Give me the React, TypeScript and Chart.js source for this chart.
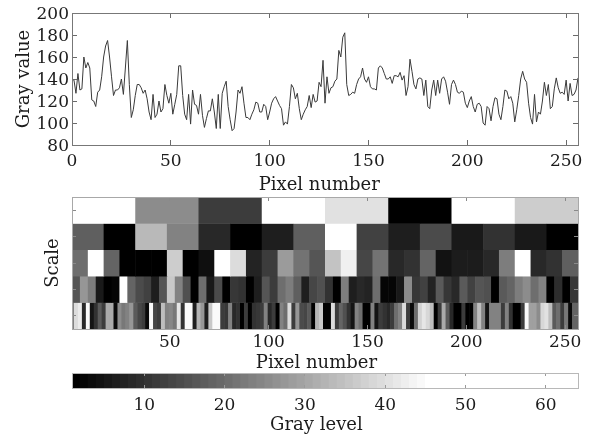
import React, { useEffect, useRef } from "react";
import { Chart, registerables } from "chart.js";

Chart.register(...registerables);

const grayValues = [
  140,139,127,145,130,131,160,150,155,150,
  121,120,115,128,130,142,160,170,175,160,
  142,125,130,130,132,140,126,150,175,135,
  105,112,125,135,135,132,127,130,122,110,
  103,126,105,108,120,110,113,135,125,118,
  127,108,117,126,152,152,125,108,103,126,
  99,130,117,116,108,126,107,96,104,111,
  111,122,110,95,126,95,127,133,138,115,
  103,93,95,110,130,127,133,118,105,105,
  103,108,112,119,118,110,110,117,115,103,
  110,118,122,124,120,116,113,98,101,99,
  115,135,132,122,127,113,103,108,112,115,
  125,114,126,119,120,137,133,157,118,142,
  127,132,133,138,140,166,160,178,182,135,
  125,126,128,127,135,140,142,150,140,137,
  142,133,131,131,130,150,152,150,145,140,
  140,142,136,143,143,142,146,139,143,125,
  133,158,147,135,131,140,141,140,125,139,
  115,113,130,139,125,139,127,140,142,138,
  128,117,135,139,135,128,127,129,128,118,
  114,120,124,115,110,117,118,115,100,98,
  115,113,102,115,123,122,108,103,115,130,
  129,122,124,118,101,112,125,140,147,140,
  137,118,105,99,126,101,110,108,120,137,
  125,135,113,115,131,141,132,127,128,126,
  139,120,136,125,126,130,141,
];

const scaleRow1 = [255,140,60,255,225,0,255,205];
const scaleRow2 = [95,0,185,130,40,0,30,95,255,65,30,75,25,50,25,0];
const scaleRow3 = [110,255,100,0,0,0,205,0,15,255,220,35,60,155,115,85,195,240,70,115,40,50,100,18,28,28,40,125,255,40,50,95];
const scaleRow4 = [
  85,150,125,25,0,5,255,100,75,65,30,85,200,130,80,0,110,25,75,0,55,50,0,30,85,60,110,125,95,30,70,80,
  50,0,125,30,40,35,110,5,5,25,140,55,65,35,90,55,40,90,65,85,80,0,90,100,125,140,110,130,0,45,0,55,
];
const scaleRow5 = [
  130,220,235,40,250,20,50,90,60,170,
  170,10,140,120,130,150,90,70,60,10,
  250,70,60,190,130,135,120,230,50,250,
  250,30,180,150,30,200,250,250,60,55,
  130,40,50,0,60,0,50,55,60,130,
  40,60,0,130,110,220,60,150,75,70,
  90,0,180,200,0,0,220,60,100,80,
  50,20,130,110,0,0,130,20,60,50,
  40,60,110,130,220,60,10,110,210,230,
  215,190,0,60,170,90,40,0,0,60,
  0,0,130,190,130,20,130,130,130,60,
  130,50,0,0,60,250,160,160,140,215,
  225,190,90,110,60,120,10,100,100,
];
const scaleRows = [scaleRow1, scaleRow2, scaleRow3, scaleRow4, scaleRow5];
const scaleLabels = ["1", "2", "3", "4", "5"];
const colorbarGrays = [
  0,6,12,17,23,29,35,41,46,52,58,64,70,75,81,87,93,99,104,110,116,122,128,133,139,145,151,157,162,168,174,180,
  186,191,197,203,209,215,220,226,232,238,244,249,255,255,255,255,255,255,255,255,255,255,255,255,255,255,255,255,255,255,255,255,
];
const lineTicks = [0, 50, 100, 150, 200, 250];
const yTicks = [80, 100, 120, 140, 160, 180, 200];
const mapTicks = [50, 100, 150, 200, 250];
const barTicks = [10, 20, 30, 40, 50, 60];

const FONT = "'DejaVu Serif'";
const tickFont = { family: FONT, size: 17 };
const titleFont = { family: FONT, size: 18 };
const TEXT = "#1c1c1c";
const AXIS = "#6a6a6a";
const gray = (g: number) => `rgb(${g},${g},${g})`;

const fixed = (k: "width" | "height", v: number) => (s: any) => {
  s[k] = v;
  s.paddingLeft = 0;
  s.paddingRight = 0;
  s.paddingTop = 0;
  s.paddingBottom = 0;
};
const only = (vals: number[]) => (s: any) => { s.ticks = vals.map((value) => ({ value })); };

const frame = (color: string) => ({
  id: "frame",
  afterDraw(chart: any) {
    const { ctx, chartArea: a } = chart;
    ctx.save();
    ctx.strokeStyle = color;
    ctx.lineWidth = 1;
    ctx.strokeRect(Math.round(a.left) + 0.5, Math.round(a.top) + 0.5, Math.round(a.right - a.left), Math.round(a.bottom - a.top));
    ctx.restore();
  },
});

function xAxis(min: number, max: number, vals: number[], h: number, title: string, tickLen: number, pad: number, color = AXIS) {
  return {
    type: "linear", position: "bottom", min, max,
    afterFit: fixed("height", h),
    afterBuildTicks: only(vals),
    border: { display: false },
    grid: { drawOnChartArea: false, tickLength: -tickLen, color, z: 2 },
    ticks: { color: TEXT, font: tickFont, padding: pad, maxRotation: 0, autoSkip: false, callback: (v: any) => String(v) },
    title: { display: true, text: title, color: TEXT, font: titleFont, padding: { top: 0, bottom: 0 } },
  };
}
function topAxis(min: number, max: number, vals: number[], tickLen: number, color = AXIS) {
  return {
    type: "linear", position: "top", min, max,
    afterFit: fixed("height", 0),
    afterBuildTicks: only(vals),
    border: { display: false },
    grid: { drawOnChartArea: false, tickLength: -tickLen, color, z: 2 },
    ticks: { display: false },
  };
}
function rightBlank(extra: any = {}) {
  return {
    position: "right",
    afterFit: fixed("width", 0),
    border: { display: false },
    ticks: { display: false },
    ...extra,
  };
}

const common = (pad: any) => ({
  responsive: false,
  animation: false as const,
  layout: { padding: pad },
  plugins: { legend: { display: false }, tooltip: { enabled: false } },
});

function cells(values: number[], start: number, width: number, y: string) {
  return {
    data: values.map((_, i) => ({ x: [start + i * width, start + (i + 1) * width + 0.3], y })),
    backgroundColor: values.map(gray),
    borderWidth: 0,
    barPercentage: 1.02,
    categoryPercentage: 1,
    grouped: false,
  };
}

export default function App() {
  const a = useRef<HTMLCanvasElement>(null);
  const b = useRef<HTMLCanvasElement>(null);
  const c = useRef<HTMLCanvasElement>(null);

  useEffect(() => {
    const lineChart = new Chart(a.current!, {
      type: "line",
      data: {
        datasets: [{
          data: grayValues.map((y, x) => ({ x, y })),
          borderColor: "#3a3a3a", borderWidth: 1, pointRadius: 0, tension: 0, fill: false,
        }],
      },
      plugins: [frame("#777777")],
      options: {
        ...common({ left: 0, top: 13, right: 13, bottom: 0 }),
        scales: {
          x: xAxis(0, 256, lineTicks, 51, "Pixel number  ", 5, 11),
          x2: topAxis(0, 256, lineTicks, 5),
          y: {
            type: "linear", position: "left", min: 80, max: 200,
            afterFit: fixed("width", 72),
            afterBuildTicks: only(yTicks),
            border: { display: false },
            grid: { drawOnChartArea: false, tickLength: -5, color: AXIS, z: 2 },
            ticks: { color: TEXT, font: tickFont, padding: 8, labelOffset: 2, autoSkip: false, callback: (v: any) => String(v) },
            title: { display: true, text: "Gray value", color: TEXT, font: titleFont, padding: { top: 14, bottom: 0 } },
          },
          y2: { type: "linear", min: 80, max: 200, afterBuildTicks: only(yTicks),
            grid: { drawOnChartArea: false, tickLength: -5, color: AXIS, z: 2 }, ...rightBlank() },
        },
      } as any,
    });

    const mapChart = new Chart(b.current!, {
      type: "bar",
      data: {
        labels: scaleLabels,
        datasets: scaleRows.map((row, r) =>
          cells(row, r === 4 ? -0.5 : 0.5, r === 4 ? 2 : 256 / row.length, scaleLabels[r])),
      } as any,
      plugins: [frame("#a8a8a8")],
      options: {
        ...common({ left: 0, top: 7, right: 13, bottom: 0 }),
        indexAxis: "y",
        scales: {
          x: xAxis(0.5, 256.5, mapTicks, 45, "Pixel number   ", 4, 7, "#8a8a8a"),
          x2: topAxis(0.5, 256.5, mapTicks, 4, "#8a8a8a"),
          y: {
            type: "category", position: "left", offset: true,
            afterFit: fixed("width", 72),
            border: { display: false },
            grid: { drawOnChartArea: false, tickLength: -4, color: "#8a8a8a", offset: false, z: 2 },
            ticks: { display: false },
            title: { display: true, text: "Scale", color: TEXT, font: titleFont, padding: { top: 43, bottom: 0 } },
          },
          y2: { type: "category", labels: scaleLabels, offset: true,
            grid: { drawOnChartArea: false, tickLength: -4, color: "#8a8a8a", offset: false, z: 2 }, ...rightBlank() },
        },
      } as any,
    });

    const barChart = new Chart(c.current!, {
      type: "bar",
      data: {
        labels: ["Gray level"],
        datasets: [{
          data: colorbarGrays.map((_, i) => ({ x: [i + 1, i + 2.05], y: "Gray level" })),
          backgroundColor: colorbarGrays.map(gray),
          borderWidth: 0, barPercentage: 1, categoryPercentage: 1,
        }],
      } as any,
      plugins: [frame("#b8b8b8")],
      options: {
        ...common({ left: 0, top: 3, right: 13, bottom: 0 }),
        indexAxis: "y",
        scales: {
          x: xAxis(1, 64, barTicks, 48, "Gray level   ", 3, 10, "#9a9a9a"),
          x2: topAxis(1, 64, barTicks, 3, "#9a9a9a"),
          y: {
            type: "category", position: "left", offset: true,
            afterFit: fixed("width", 72),
            border: { display: false },
            grid: { display: false },
            ticks: { display: false },
          },
          y2: { type: "category", labels: ["Gray level"], offset: true, grid: { display: false }, ...rightBlank() },
        },
      } as any,
    });

    return () => { lineChart.destroy(); mapChart.destroy(); barChart.destroy(); };
  }, []);

  const style = (top: number, h: number): React.CSSProperties => ({
    position: "absolute", left: 0, top, width: 591, height: h, filter: "blur(0.4px)",
  });

  return (
    <div style={{ position: "absolute", left: 0, top: 0, width: 591, height: 435, background: "#fff", overflow: "hidden" }}>
      <canvas ref={a} width={591} height={196} style={style(0, 196)} />
      <canvas ref={b} width={591} height={184} style={style(190, 184)} />
      <canvas ref={c} width={591} height={66} style={style(370, 66)} />
    </div>
  );
}
